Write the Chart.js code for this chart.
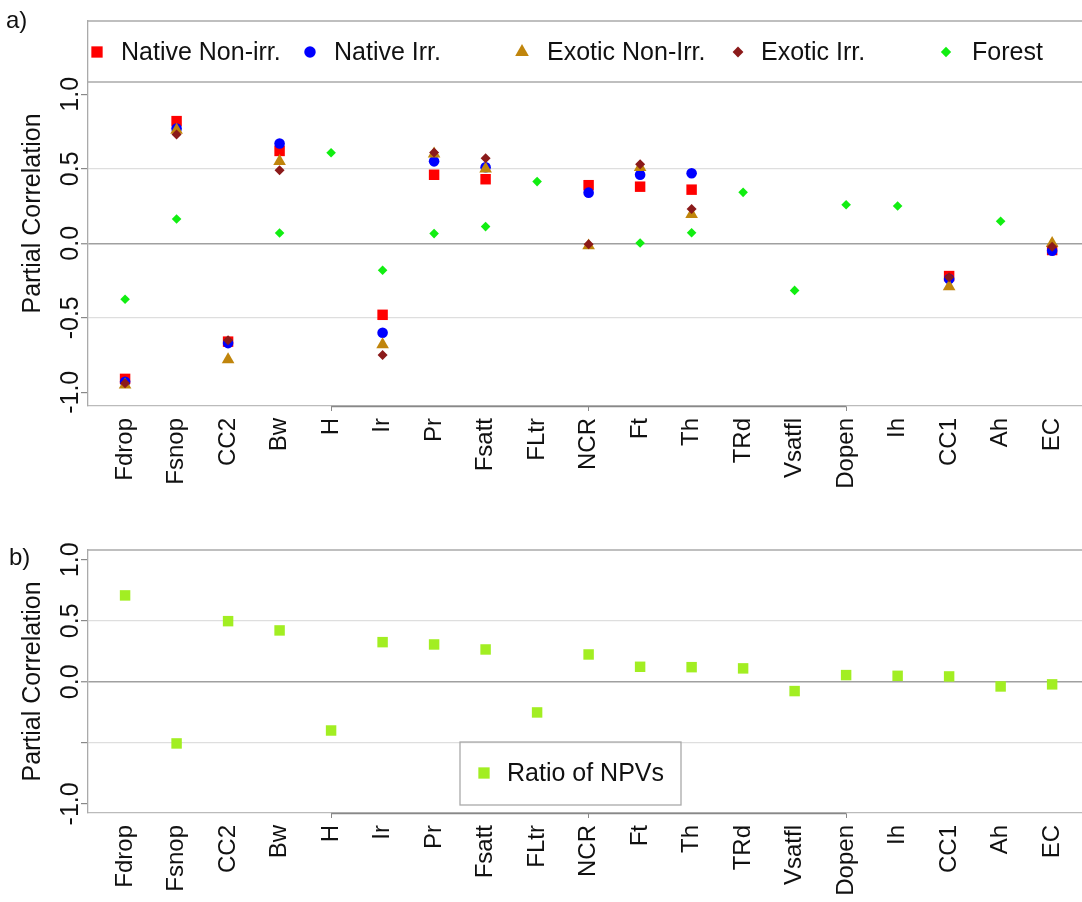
<!DOCTYPE html>
<html lang="en">
<head>
<meta charset="UTF-8">
<title>Partial Correlation</title>
<script src="https://cdn.jsdelivr.net/npm/chart.js"></script>
<style>
  body { margin: 0; background: #fff; }
  #wrap { position: relative; width: 1082px; height: 902px; font-family: "Liberation Sans", Arial, sans-serif; }
  .panel { position: absolute; left: 0; }
  #chartA { top: 0; }
  #chartB { top: 500px; }
  .tag { position: absolute; font-size: 24px; color: #111; }
</style>
</head>
<body>
<div id="wrap">
  <canvas id="chartA" class="panel" width="1082" height="500"></canvas>
  <canvas id="chartB" class="panel" width="1082" height="402"></canvas>
  <div class="tag" style="left:6px; top:6px">a)</div>
  <div class="tag" style="left:9px; top:543px">b)</div>
</div>
<script>
// explanatory variables, in plotting order
const variables = ['Fdrop', 'Fsnop', 'CC2', 'Bw', 'H', 'Ir', 'Pr', 'Fsatt', 'FLtr', 'NCR',
                   'Ft', 'Th', 'TRd', 'Vsatfl', 'Dopen', 'Ih', 'CC1', 'Ah', 'EC'];

// panel a: partial correlations per stand type (null = not in model)
const nativeNonIrr = [-0.91, 0.82, -0.66, 0.62, null, -0.48, 0.46, 0.43, null, 0.39,
                      0.38, 0.36, null, null, null, null, -0.22, null, -0.045];
const nativeIrr    = [-0.93, 0.77, -0.67, 0.67, null, -0.60, 0.55, 0.51, null, 0.34,
                      0.46, 0.47, null, null, null, null, -0.24, null, -0.05];
const exoticNonIrr = [-0.95, 0.76, -0.78, 0.55, null, -0.68, 0.60, 0.50, null, -0.016,
                      0.51, 0.195, null, null, null, null, -0.29, null, 0.0];
const exoticIrr    = [-0.94, 0.73, -0.65, 0.49, null, -0.75, 0.61, 0.57, null, -0.007,
                      0.53, 0.23, null, null, null, null, -0.228, null, -0.023];
const forest       = [-0.376, 0.163, null, 0.069, 0.608, -0.181, 0.065, 0.112, 0.414, null,
                      0.002, 0.071, 0.342, -0.316, 0.259, 0.25, null, 0.148, null];

// panel b: partial correlation with the ratio of NPVs
const npvRatio = [0.708, -0.505, 0.497, 0.421, -0.399, 0.325, 0.306, 0.265, -0.251, 0.224,
                  0.123, 0.12, 0.11, -0.076, 0.055, 0.049, 0.044, -0.038, -0.021];

const yTickValues = [-1, -0.5, 0, 0.5, 1];
const xMarkedTicks = [4, 9, 14];

const FONT = '"Liberation Sans", Arial, sans-serif';

function points(arr) {
  const out = [];
  arr.forEach((v, i) => { if (v !== null) out.push({ x: i, y: v }); });
  return out;
}

// frame lines, rotated y labels and a fixed-column legend
const frame = {
  id: 'frame',
  afterDraw(chart, args, opts) {
    const { ctx, chartArea: a, scales: { x, y } } = chart;
    ctx.save();

    ctx.font = '25px ' + FONT;
    ctx.fillStyle = '#111';
    ctx.textAlign = 'center';
    ctx.textBaseline = 'middle';
    yTickValues.forEach(v => {
      if ((opts.skipLabels || []).includes(v)) return;
      ctx.save();
      ctx.translate(a.left - 17, y.getPixelForValue(v));
      ctx.rotate(-Math.PI / 2);
      ctx.fillText(v.toFixed(1), 0, 0);
      ctx.restore();
    });

    ctx.strokeStyle = '#aaa';
    ctx.lineWidth = 1.3;
    ctx.beginPath();
    ctx.moveTo(a.left, a.top);
    ctx.lineTo(a.right, a.top);
    if (opts.legendLine) {
      ctx.moveTo(a.left, opts.legendLine);
      ctx.lineTo(a.right, opts.legendLine);
    }
    ctx.stroke();

    // axis segment between the outer marked ticks
    ctx.strokeStyle = '#888';
    ctx.beginPath();
    ctx.moveTo(x.getPixelForValue(xMarkedTicks[0]), a.bottom + 0.5);
    ctx.lineTo(x.getPixelForValue(xMarkedTicks[xMarkedTicks.length - 1]), a.bottom + 0.5);
    ctx.stroke();

    const lg = opts.legend;
    if (lg.box) {
      ctx.strokeStyle = '#aaa';
      ctx.lineWidth = 1.3;
      ctx.strokeRect(lg.box[0], lg.box[1], lg.box[2] - lg.box[0], lg.box[3] - lg.box[1]);
    }
    ctx.font = '25px ' + FONT;
    ctx.textAlign = 'left';
    lg.items.forEach(it => {
      const ds = chart.data.datasets[it.dataset];
      ctx.fillStyle = ds.backgroundColor;
      ctx.strokeStyle = ds.backgroundColor;
      Chart.helpers.drawPoint(ctx, {
        pointStyle: ds.pointStyle, radius: ds.pointRadius * 1.08, rotation: 0, borderWidth: 0
      }, it.x, lg.y);
      ctx.fillStyle = '#111';
      ctx.fillText(ds.label, it.textX, lg.y + 1);
    });
    ctx.restore();
  }
};

function scaleConfig(yMin, yMax, xHeight) {
  return {
    x: {
      type: 'linear', min: -0.72, max: 18.58,
      afterBuildTicks: s => { s.ticks = variables.map((_, i) => ({ value: i })); },
      afterFit: s => { s.height = xHeight; s.paddingLeft = 0; s.paddingRight = 0; },
      ticks: {
        autoSkip: false, minRotation: 90, maxRotation: 90, padding: 7, color: '#111',
        font: { family: FONT, size: 24 },
        callback: v => variables[v]
      },
      grid: {
        drawOnChartArea: false, tickLength: 5,
        tickColor: c => xMarkedTicks.includes(c.tick && c.tick.value) ? '#888' : 'rgba(0,0,0,0)'
      },
      border: { color: '#bbb', width: 1.3 }
    },
    y: {
      min: yMin, max: yMax,
      afterBuildTicks: s => { s.ticks = yTickValues.map(v => ({ value: v })); },
      afterFit: s => { s.width = 88; },
      ticks: { display: false },
      grid: {
        color: c => {
          const v = c.tick ? c.tick.value : null;
          if (v === 0) return '#a0a0a0';
          if (v === 0.5 || v === -0.5) return '#dedede';
          return 'rgba(0,0,0,0)';
        },
        lineWidth: c => (c.tick && c.tick.value === 0) ? 1.5 : 1.2,
        tickLength: 7, tickColor: '#888', tickWidth: 1.2
      },
      border: { color: '#aaa', width: 1.3 },
      title: {
        display: true, text: 'Partial Correlation', color: '#111',
        font: { family: FONT, size: 25 }, padding: { top: 18, bottom: 0 }
      }
    }
  };
}

const commonPlugins = { legend: { display: false }, tooltip: { enabled: false } };

new Chart(document.getElementById('chartA'), {
  type: 'scatter',
  data: {
    datasets: [
      { label: 'Native Non-irr.', data: points(nativeNonIrr), backgroundColor: '#ff0000',
        pointStyle: 'rect', pointRadius: 7.4, order: 5 },
      { label: 'Native Irr.', data: points(nativeIrr), backgroundColor: '#0000ff',
        pointStyle: 'circle', pointRadius: 5.3, order: 4 },
      { label: 'Exotic Non-Irr.', data: points(exoticNonIrr), backgroundColor: '#c0850c',
        pointStyle: 'triangle', pointRadius: 7.3, order: 3 },
      { label: 'Exotic Irr.', data: points(exoticIrr), backgroundColor: '#8b1a1a',
        pointStyle: 'rectRot', pointRadius: 5, order: 2 },
      { label: 'Forest', data: points(forest), backgroundColor: '#11ee11',
        pointStyle: 'rectRot', pointRadius: 4.8, order: 1 }
    ]
  },
  options: {
    responsive: false, animation: false,
    layout: { autoPadding: false, padding: { top: 21, right: 0, bottom: 0, left: 0 } },
    elements: { point: { borderWidth: 0 } },
    scales: scaleConfig(-1.092, 1.492, 94),
    plugins: {
      ...commonPlugins,
      frame: {
        legendLine: 82,
        legend: {
          y: 52,
          items: [
            { dataset: 0, x: 97, textX: 121 },
            { dataset: 1, x: 310, textX: 334 },
            { dataset: 2, x: 522, textX: 547 },
            { dataset: 3, x: 738, textX: 761 },
            { dataset: 4, x: 946, textX: 972 }
          ]
        }
      }
    }
  },
  plugins: [frame]
});

new Chart(document.getElementById('chartB'), {
  type: 'scatter',
  data: {
    datasets: [
      { label: 'Ratio of NPVs', data: points(npvRatio), backgroundColor: '#a2ee22',
        pointStyle: 'rect', pointRadius: 7.4 }
    ]
  },
  options: {
    responsive: false, animation: false,
    layout: { autoPadding: false, padding: { top: 50, right: 0, bottom: 0, left: 0 } },
    elements: { point: { borderWidth: 0 } },
    scales: scaleConfig(-1.075, 1.08, 89),
    plugins: {
      ...commonPlugins,
      frame: {
        skipLabels: [-0.5],
        legend: {
          y: 273,
          box: [460, 242, 681, 305],
          items: [{ dataset: 0, x: 484, textX: 507 }]
        }
      }
    }
  },
  plugins: [frame]
});
</script>
</body>
</html>
